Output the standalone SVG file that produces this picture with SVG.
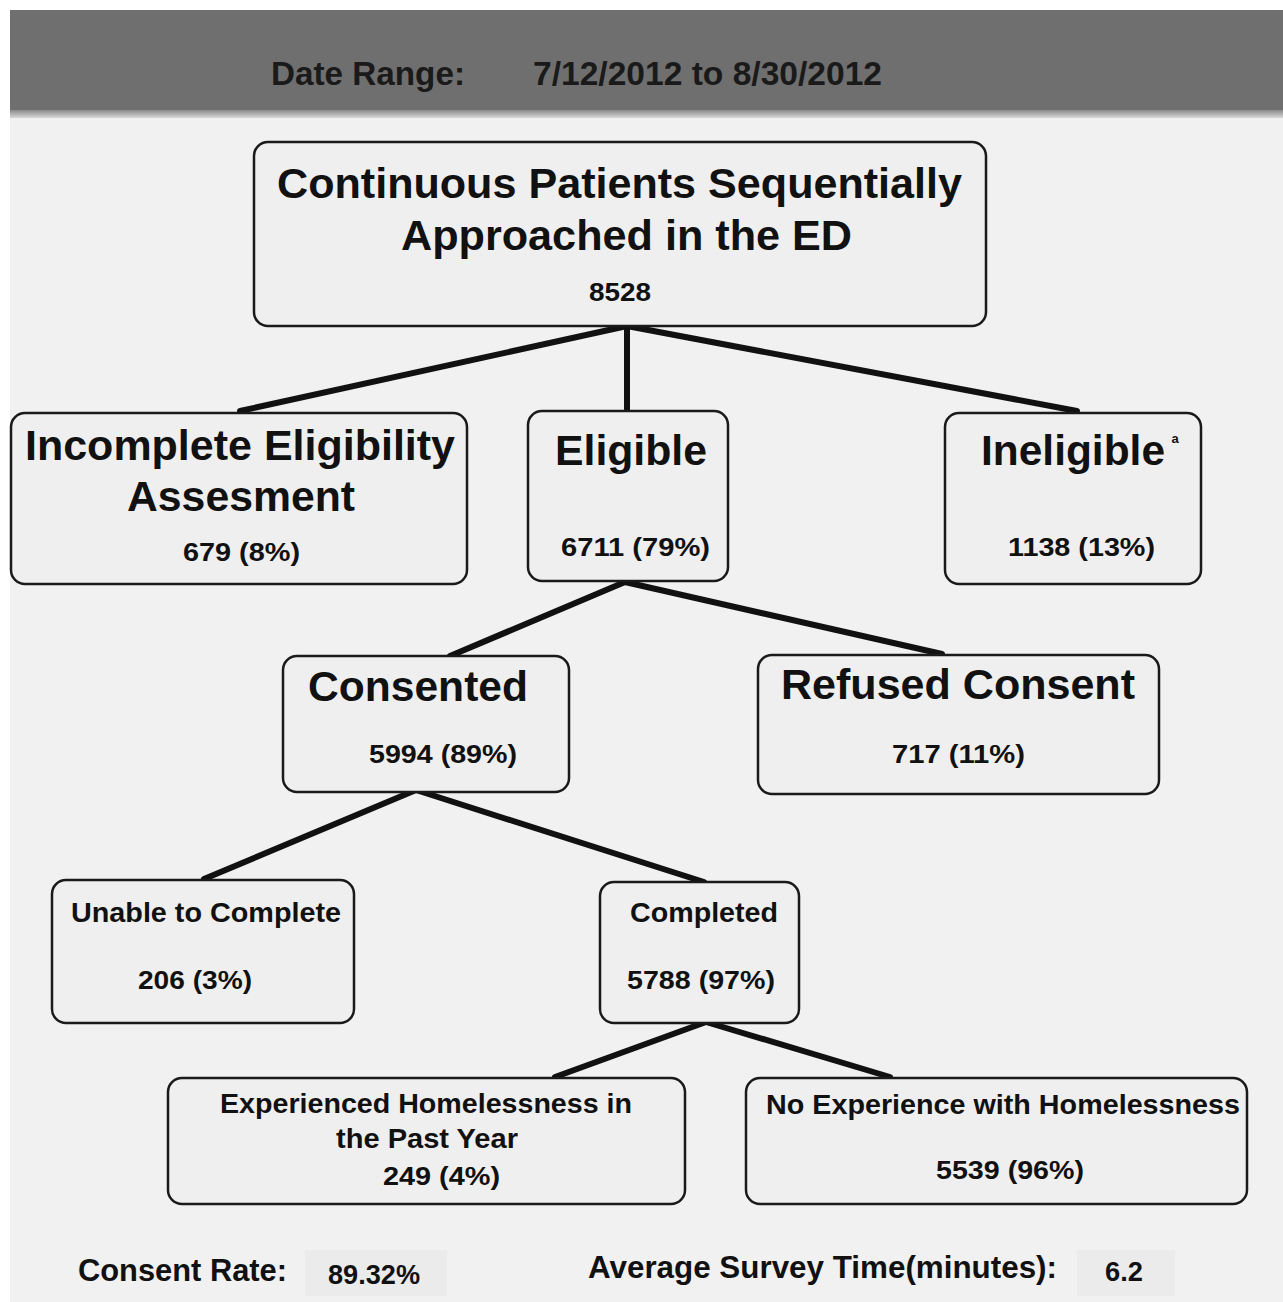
<svg xmlns="http://www.w3.org/2000/svg" width="1283" height="1302" viewBox="0 0 1283 1302">
<defs>
<linearGradient id="strip" x1="0" y1="0" x2="0" y2="1">
<stop offset="0" stop-color="#8a8a8a"/>
<stop offset="1" stop-color="#d8d8d8"/>
</linearGradient>
<style>
.node rect{fill:#efefef;stroke:#1a1a1a;stroke-width:2.5}
text{font-family:"Liberation Sans",Arial,sans-serif;font-weight:bold;fill:#111;text-anchor:middle}
.big{font-size:42px}
.mid{font-size:28px}
.num{font-size:26px}
.hdr{font-size:34px;text-anchor:start;fill:#1a1a1a}
.foot{font-size:32px;text-anchor:start}
.footv{font-size:28px;text-anchor:start}
#connectors line{stroke:#111;stroke-width:6;stroke-linecap:round}
</style>
</defs>
<rect x="0" y="0" width="1283" height="1302" fill="#ffffff"/>
<rect x="10" y="10" width="1273" height="1292" fill="#f1f1f1"/>
<rect x="10" y="10" width="1273" height="101" fill="#6f6f6f"/>
<rect x="10" y="110" width="1273" height="8" fill="url(#strip)"/>
<g id="header">
<text class="hdr" x="271" y="85" textLength="194" lengthAdjust="spacingAndGlyphs">Date Range:</text>
<text class="hdr" x="533" y="85" textLength="349" lengthAdjust="spacingAndGlyphs">7/12/2012 to 8/30/2012</text>
</g>
<g id="connectors">
<line x1="627" y1="326" x2="240" y2="411"/>
<line x1="627" y1="326" x2="627" y2="411"/>
<line x1="627" y1="326" x2="1077" y2="411"/>
<line x1="625" y1="582" x2="450" y2="656"/>
<line x1="625" y1="582" x2="942" y2="654"/>
<line x1="416" y1="790" x2="204" y2="879"/>
<line x1="416" y1="790" x2="704" y2="882"/>
<line x1="706" y1="1022" x2="555" y2="1077"/>
<line x1="706" y1="1022" x2="890" y2="1077"/>
</g>
<g id="node-total" class="node">
<rect x="254" y="142" width="732" height="184" rx="14"/>
<text class="big" x="619.5" y="198" textLength="685" lengthAdjust="spacingAndGlyphs">Continuous Patients Sequentially</text>
<text class="big" x="626.5" y="250" textLength="451" lengthAdjust="spacingAndGlyphs">Approached in the ED</text>
<text class="num" x="620" y="301" textLength="62" lengthAdjust="spacingAndGlyphs">8528</text>
</g>
<g id="node-incomplete" class="node">
<rect x="11" y="413" width="456" height="171" rx="14"/>
<text class="big" x="240" y="460" textLength="430" lengthAdjust="spacingAndGlyphs">Incomplete Eligibility</text>
<text class="big" x="241" y="511" textLength="228" lengthAdjust="spacingAndGlyphs">Assesment</text>
<text class="num" x="241.5" y="561" textLength="117" lengthAdjust="spacingAndGlyphs">679 (8%)</text>
</g>
<g id="node-eligible" class="node">
<rect x="528" y="411" width="200" height="170" rx="14"/>
<text class="big" x="631" y="465" textLength="152" lengthAdjust="spacingAndGlyphs">Eligible</text>
<text class="num" x="635.5" y="556" textLength="149" lengthAdjust="spacingAndGlyphs">6711 (79%)</text>
</g>
<g id="node-ineligible" class="node">
<rect x="945" y="413" width="256" height="171" rx="14"/>
<text class="big" x="1073" y="465" textLength="184" lengthAdjust="spacingAndGlyphs">Ineligible</text>
<text x="1175" y="443" style="font-size:13px">a</text>
<text class="num" x="1081.5" y="556" textLength="147" lengthAdjust="spacingAndGlyphs">1138 (13%)</text>
</g>
<g id="node-consented" class="node">
<rect x="283" y="656" width="286" height="136" rx="14"/>
<text class="big" x="418" y="701" textLength="220" lengthAdjust="spacingAndGlyphs">Consented</text>
<text class="num" x="443" y="763" textLength="148" lengthAdjust="spacingAndGlyphs">5994 (89%)</text>
</g>
<g id="node-refused" class="node">
<rect x="758" y="655" width="401" height="139" rx="14"/>
<text class="big" x="958" y="699" textLength="354" lengthAdjust="spacingAndGlyphs">Refused Consent</text>
<text class="num" x="958.5" y="763" textLength="133" lengthAdjust="spacingAndGlyphs">717 (11%)</text>
</g>
<g id="node-unable" class="node">
<rect x="52" y="880" width="302" height="143" rx="14"/>
<text class="mid" x="206" y="922" textLength="270" lengthAdjust="spacingAndGlyphs">Unable to Complete</text>
<text class="num" x="195" y="989" textLength="114" lengthAdjust="spacingAndGlyphs">206 (3%)</text>
</g>
<g id="node-completed" class="node">
<rect x="600" y="882" width="199" height="141" rx="14"/>
<text class="mid" x="704" y="922" textLength="148" lengthAdjust="spacingAndGlyphs">Completed</text>
<text class="num" x="701" y="989" textLength="148" lengthAdjust="spacingAndGlyphs">5788 (97%)</text>
</g>
<g id="node-homeless" class="node">
<rect x="168" y="1078" width="517" height="126" rx="14"/>
<text class="mid" x="426" y="1113" textLength="412" lengthAdjust="spacingAndGlyphs">Experienced Homelessness in</text>
<text class="mid" x="427" y="1148" textLength="182" lengthAdjust="spacingAndGlyphs">the Past Year</text>
<text class="num" x="441.5" y="1185" textLength="117" lengthAdjust="spacingAndGlyphs">249 (4%)</text>
</g>
<g id="node-nohomeless" class="node">
<rect x="746" y="1078" width="501" height="126" rx="14"/>
<text class="mid" x="1003" y="1114" textLength="474" lengthAdjust="spacingAndGlyphs">No Experience with Homelessness</text>
<text class="num" x="1010" y="1179" textLength="148" lengthAdjust="spacingAndGlyphs">5539 (96%)</text>
</g>
<g id="footer">
<rect x="305" y="1250" width="142" height="46" fill="#ebebeb"/>
<rect x="1077" y="1250" width="98" height="46" fill="#ebebeb"/>
<text class="foot" x="78" y="1281" textLength="209" lengthAdjust="spacingAndGlyphs">Consent Rate:</text>
<text class="footv" x="328" y="1284" textLength="92" lengthAdjust="spacingAndGlyphs">89.32%</text>
<text class="foot" x="588" y="1278" textLength="469" lengthAdjust="spacingAndGlyphs">Average Survey Time(minutes):</text>
<text class="footv" x="1105" y="1281" textLength="38" lengthAdjust="spacingAndGlyphs">6.2</text>
</g>
</svg>
